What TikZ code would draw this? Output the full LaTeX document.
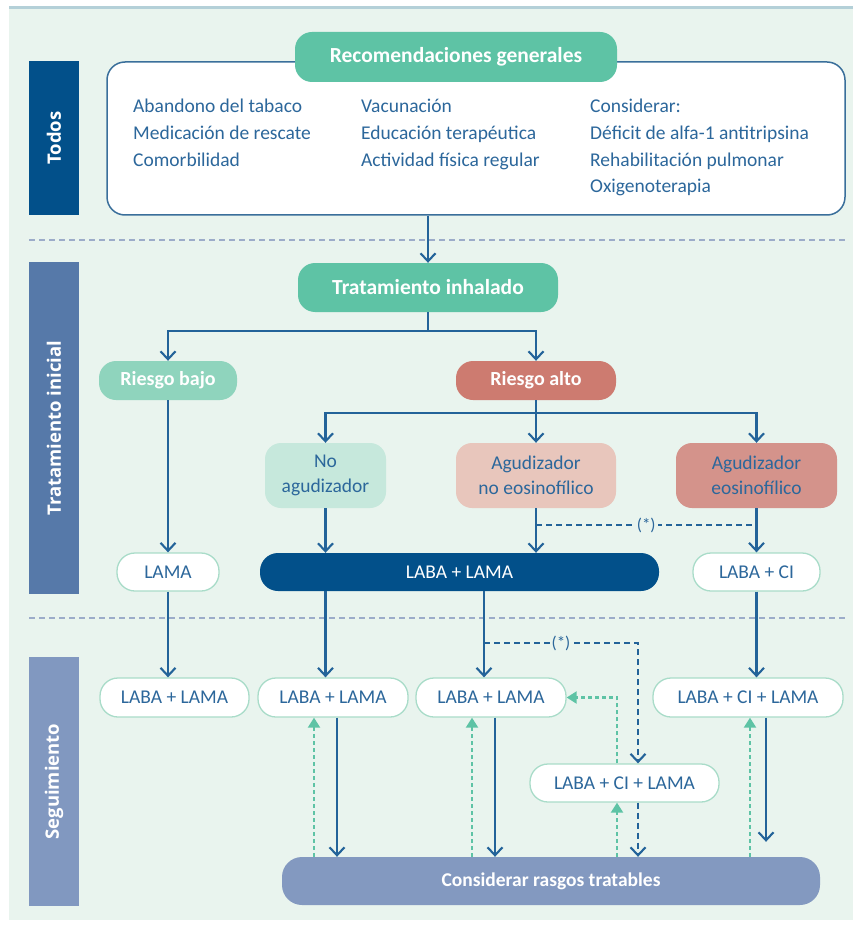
\documentclass[tikz,border=0pt]{standalone}
\usepackage{fontspec}
\setmainfont{Carlito}
\newfontfamily\sidefont{Open Sans}
\usetikzlibrary{arrows.meta,calc}
\definecolor{bgc}{HTML}{E9F4EE}
\definecolor{toplinec}{HTML}{B4D0D8}
\definecolor{navy}{HTML}{02508A}
\definecolor{midblue}{HTML}{5679A9}
\definecolor{lightblue}{HTML}{8198C0}
\definecolor{consc}{HTML}{8399C0}
\definecolor{tealc}{HTML}{5EC3A5}
\definecolor{paletealc}{HTML}{8FD4BD}
\definecolor{paletealb}{HTML}{C6E8DC}
\definecolor{redc}{HTML}{CD7B70}
\definecolor{pinkc}{HTML}{E8C6BC}
\definecolor{rosec}{HTML}{D4938B}
\definecolor{txtblue}{HTML}{2C679B}
\definecolor{lineblue}{HTML}{236399}
\definecolor{sepc}{HTML}{9CACC9}
\definecolor{pillborder}{HTML}{A9DCC9}
\definecolor{boxborder}{HTML}{3A6F9B}
\tikzset{
  base/.style={rectangle, inner sep=0pt, align=center, text=txtblue,
    font=\fontsize{19.5}{25}\selectfont},
  boldtitle/.style={base, text=white, rounded corners=17pt,
    font=\bfseries\fontsize{21.5}{26}\selectfont},
  colbox/.style={base, rounded corners=16pt},
  wpill/.style={base, fill=white, draw=pillborder, line width=1.3pt,
    rounded corners=18pt, minimum height=38pt},
  sidebar/.style={rectangle, inner sep=0pt, minimum width=50pt},
  sidetext/.style={text=white, rotate=90, inner sep=0pt,
    font=\sidefont\bfseries\fontsize{18.5}{20}\selectfont},
  listtxt/.style={anchor=west, inner sep=0pt, text=txtblue,
    font=\fontsize{19.5}{25}\selectfont, text height=13pt, text depth=4pt},
  sep/.style={draw=sepc, line width=1.6pt, dash pattern=on 6pt off 4pt},
  arr/.style={draw=lineblue, line width=2.1pt,
    -{Straight Barb[length=8pt,width=15pt]}},
  dsh/.style={arr, dash pattern=on 6pt off 4pt},
  dshline/.style={draw=lineblue, line width=2.1pt, dash pattern=on 6pt off 4pt},
  garr/.style={draw=tealc, line width=2.1pt, dash pattern=on 4pt off 3pt,
    -{Triangle[length=10pt,width=12pt]}},
  ast/.style={fill=bgc, inner sep=2pt, text=txtblue,
    font=\fontsize{17}{19}\selectfont}
}
\begin{document}
\begin{tikzpicture}[x=1pt,y=-1pt]
\useasboundingbox (0,0) rectangle (853,925);
% background
\fill[bgc] (9,9) rectangle (853,920);
\draw[toplinec, line width=3pt] (9,8) -- (853,8);
% side bars
\node[sidebar, fill=navy, minimum height=154pt] (sb1) at (54,138) {};
\node[sidetext] (st1) at (sb1.center) {Todos};
\node[sidebar, fill=midblue, minimum height=332pt] (sb2) at (54,428) {};
\node[sidetext] (st2) at (sb2.center) {Tratamiento inicial};
\node[sidebar, fill=lightblue, minimum height=249pt] (sb3) at (54,781.5) {};
\node[sidetext] (st3) at (sb3.center) {Seguimiento};
% separators
\coordinate (s1a) at (29,240); \coordinate (s1b) at (845,240);
\coordinate (s2a) at (29,618); \coordinate (s2b) at (845,618);
\draw[sep] (s1a) -- (s1b);
\draw[sep] (s2a) -- (s2b);
% top box
\node[base, fill=white, draw=boxborder, line width=1.5pt, rounded corners=18pt,
  minimum width=738pt, minimum height=153pt] (reco) at (476,138.5) {};
\node[boldtitle, fill=tealc, minimum width=322pt, minimum height=50pt] (recot) at (456,57) {Recomendaciones generales};
\node[listtxt] (a1) at (133,108) {Abandono del tabaco};
\node[listtxt] (a2) at (133,135) {Medicación de rescate};
\node[listtxt] (a3) at (133,162) {Comorbilidad};
\node[listtxt] (b1t) at (361,108) {Vacunación};
\node[listtxt] (b2t) at (361,135) {Educación terapéutica};
\node[listtxt] (b3t) at (361,162) {Actividad física regular};
\node[listtxt] (c1) at (590,108) {Considerar:};
\node[listtxt] (c2) at (590,135) {Déficit de alfa-1 antitripsina};
\node[listtxt] (c3) at (590,162) {Rehabilitación pulmonar};
\node[listtxt] (c4) at (590,188) {Oxigenoterapia};
% initial treatment
\node[boldtitle, fill=tealc, minimum width=260pt, minimum height=49pt] (trat) at (428,287.5) {Tratamiento inhalado};
\node[colbox, fill=paletealc, text=white, font=\bfseries\fontsize{20}{24}\selectfont,
  minimum width=138pt, minimum height=39pt, rounded corners=17pt] (rbajo) at (168,380.5) {Riesgo bajo};
\node[colbox, fill=redc, text=white, font=\bfseries\fontsize{20}{24}\selectfont,
  minimum width=160pt, minimum height=39pt, rounded corners=17pt] (ralto) at (536,380.5) {Riesgo alto};
\node[colbox, fill=paletealb, minimum width=121pt, minimum height=65pt] (noag) at (325.5,475.5) {No\\agudizador};
\node[colbox, fill=pinkc, minimum width=160pt, minimum height=65pt] (agno) at (536,475.5) {Agudizador\\no eosinofílico};
\node[colbox, fill=rosec, minimum width=161pt, minimum height=65pt] (agsi) at (756.5,475.5) {Agudizador\\eosinofílico};
\node[wpill, minimum width=102pt] (lama) at (168,572) {LAMA};
\node[base, fill=navy, text=white, rounded corners=18pt, minimum width=399pt,
  minimum height=38pt] (dark) at (459.5,572) {LABA + LAMA};
\node[wpill, minimum width=127pt] (laci) at (756.5,572) {LABA + CI};
% follow-up
\node[wpill, minimum width=149pt, minimum height=39pt] (f1) at (174.5,697.5) {LABA + LAMA};
\node[wpill, minimum width=150pt, minimum height=39pt] (f2) at (333,697.5) {LABA + LAMA};
\node[wpill, minimum width=150pt, minimum height=39pt] (f3) at (491,697.5) {LABA + LAMA};
\node[wpill, minimum width=190pt, minimum height=39pt] (f4) at (748,697.5) {LABA + CI + LAMA};
\node[wpill, minimum width=189pt] (mid) at (624.5,783) {LABA + CI + LAMA};
\node[base, fill=consc, text=white, rounded corners=20pt, minimum width=538pt,
  minimum height=48pt, font=\bfseries\fontsize{19.5}{24}\selectfont] (cons) at (551,881) {Considerar rasgos tratables};
% helper x coordinates
\coordinate (x168) at (168,0);
\coordinate (x314) at (314,0);
\coordinate (x337) at (337,0);
\coordinate (x472) at (472,0);
\coordinate (x484) at (484,0);
\coordinate (x495) at (495,0);
\coordinate (x617) at (617,0);
\coordinate (x638) at (638,0);
\coordinate (x750) at (750,0);
\coordinate (x766) at (766,0);
% connectors top part
\draw[arr] (reco.south -| trat.north) -- (trat.north);
\draw[arr] (trat.south) -- ++(0,19) -| (rbajo.north);
\draw[arr] (trat.south) -- ++(0,19) -| (ralto.north);
\draw[arr] (ralto.south) -- ++(0,13) -| (noag.north);
\draw[arr] (ralto.south) -- (agno.north);
\draw[arr] (ralto.south) -- ++(0,13) -| (agsi.north);
\draw[arr] (rbajo.south) -- (lama.north);
\draw[arr] (noag.south) -- (noag.south |- dark.north);
\draw[arr] (agno.south) -- (agno.south |- dark.north);
\draw[arr] (agsi.south) -- (laci.north);
\coordinate (d0a) at ($(agno.south)+(0,17)$);
\coordinate (d0b) at ($(agsi.south)+(0,17)$);
\draw[dshline] (d0a) -- node[ast] (ast1) {(*)} (d0b);
% to follow-up
\draw[arr] (lama.south) -- (f1.north -| x168);
\draw[arr] (dark.south -| noag.south) -- (f2.north -| noag.south);
\draw[arr] (dark.south -| x484) -- (f3.north -| x484);
\draw[arr] (laci.south) -- (f4.north -| laci.south);
\coordinate (d1) at ($(dark.south -| x484)+(0,52)$);
\draw[dsh] (d1) -- node[ast] (ast2) {(*)} (d1 -| x638) -- (mid.north -| x638);
% follow-up loops
\draw[arr] (f2.south -| x337) -- (cons.north -| x337);
\draw[arr] (f3.south -| x495) -- (cons.north -| x495);
\coordinate (e4) at ($(cons.north -| x766)+(0,-15)$);
\draw[arr] (f4.south -| x766) -- (e4);
\draw[dsh] (mid.south -| x638) -- (cons.north -| x638);
\draw[garr] (cons.north -| x314) -- (f2.south -| x314);
\draw[garr] (cons.north -| x472) -- (f3.south -| x472);
\draw[garr] (cons.north -| x617) -- (mid.south -| x617);
\draw[garr] (cons.north -| x750) -- (f4.south -| x750);
\draw[garr] (mid.north -| x617) |- (f3.east);
\end{tikzpicture}
\end{document}
